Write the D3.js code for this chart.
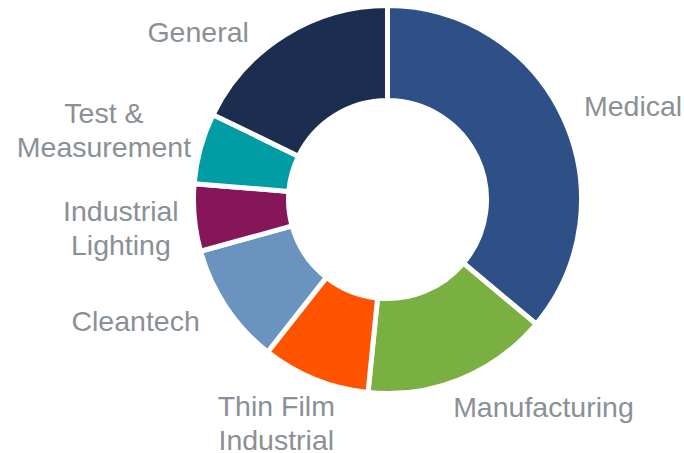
<!DOCTYPE html>
<meta charset="utf-8">
<style>
body { margin: 0; background: #fff; }
.lbl { font: 28.5px "Liberation Sans", Arial, sans-serif; fill: #8a9095; }
.arc path { stroke: #fff; stroke-width: 5px; stroke-linejoin: miter; }
</style>
<svg width="684" height="453"></svg>
<script src="https://d3js.org/d3.v7.min.js"></script>
<script>

// segment shares in percent, clockwise from 12 o'clock
var categories = ["Medical", "Manufacturing", "Thin Film Industrial", "Cleantech", "Industrial Lighting", "Test & Measurement", "General"];
var shares = [36.1, 15.5, 9.0, 10.1, 5.6, 5.9, 17.8];
var labelLines = [["Medical"], ["Manufacturing"], ["Thin Film", "Industrial"], ["Cleantech"], ["Industrial", "Lighting"], ["Test &", "Measurement"], ["General"]];
var colors = ["#2e5087", "#7aaf42", "#ff5300", "#6a93c0", "#841659", "#009da5", "#1b2e50"];

var svg = d3.select("svg"),
    cx = 387.5, cy = 199.5,
    outerR = 194, innerR = 99,
    labelR = 212,
    fs = 28.5, lineH = 34;

// hand nudges so labels sit where the original put them
var nudge = [[9, 4], [42, -4], [-10, -4], [-22, -5], [2, 6], [5, -4], [-50, 27]];

var g = svg.append("g").attr("transform", "translate(" + cx + "," + cy + ")");

var pie = d3.pie().sort(null).value(function(d) { return d; });
var arc = d3.arc().innerRadius(innerR).outerRadius(outerR);
var arcs = pie(shares);

g.selectAll(".arc")
    .data(arcs)
    .enter()
    .append("g")
    .attr("class", "arc")
    .append("path")
    .attr("fill", function(d, i) { return colors[i]; })
    .attr("d", arc);

arcs.forEach(function(d, i) {
    var mid = (d.startAngle + d.endAngle) / 2;
    var s = Math.sin(mid), c = -Math.cos(mid);
    var lines = labelLines[i];
    var t = g.append("text").attr("class", "lbl").attr("text-anchor", "middle");
    lines.forEach(function(l, k) {
        t.append("tspan").attr("x", 0).attr("dy", k ? lineH : 0).text(l);
    });
    var w = t.node().getBBox().width;
    var h = lines.length * lineH;
    var px = labelR * s + w / 2 * s + nudge[i][0];
    var py = labelR * c + h / 2 * c + nudge[i][1];
    var y0 = py - h / 2 + lineH * 0.78;
    t.attr("transform", "translate(" + px + "," + y0 + ")");
});

</script>
